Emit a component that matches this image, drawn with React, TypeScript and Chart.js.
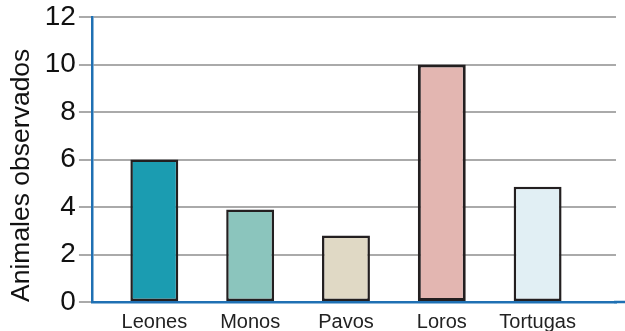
import React, { useEffect, useRef } from "react";
import { Chart, registerables } from "chart.js";

Chart.register(...registerables);

const categories = ["Leones", "Monos", "Pavos", "Loros", "Tortugas"];
const values = [6, 3.9, 2.8, 10, 4.85];
const barColors = ["#1b9cb1", "#8bc5bd", "#e0d9c5", "#e3b6b1", "#e1eff4"];
const borderWidths = [2.5, 2.5, 2.5, 3, 2.5];
const yTicks = [0, 2, 4, 6, 8, 10, 12];
const yTitle = "Animales observados";

const FONT = "'Liberation Sans', Arial, Helvetica, sans-serif";

const axisExtend = {
  id: "axisExtend",
  afterDraw(chart: any) {
    const { ctx, chartArea } = chart;
    ctx.save();
    ctx.strokeStyle = "#1f70b3";
    ctx.lineWidth = 2.5;
    ctx.beginPath();
    ctx.moveTo(chartArea.right - 2, chartArea.bottom);
    ctx.lineTo(chart.width, chartArea.bottom);
    ctx.stroke();
    ctx.restore();
  },
};

export default function App() {
  const ref = useRef<HTMLCanvasElement | null>(null);
  useEffect(() => {
    if (!ref.current) return;
    const chart = new Chart(ref.current, {
      type: "bar",
      data: {
        datasets: [
          {
            data: values.map((v, i) => ({ x: i, y: v })),
            backgroundColor: barColors,
            borderColor: "#231f20",
            borderWidth: borderWidths,
            borderSkipped: false,
            barPercentage: 0.5,
            categoryPercentage: 1,
          },
        ],
      },
      plugins: [axisExtend],
      options: {
        responsive: false,
        animation: false,
        layout: { padding: { left: 2, right: 9, top: 4, bottom: -11 } },
        plugins: { legend: { display: false }, tooltip: { enabled: false } },
        scales: {
          x: {
            type: "linear",
            offset: false,
            min: -0.651,
            max: 4.818,
            grid: { display: false, drawTicks: false },
            border: { color: "#1f70b3", width: 2.5 },
            afterBuildTicks: (axis: any) => {
              axis.ticks = categories.map((_, i) => ({ value: i }));
            },
            ticks: {
              autoSkip: false,
              maxRotation: 0,
              padding: 8,
              color: "#222",
              font: { family: FONT, size: 20 },
              callback: (v: any) => categories[Math.round(Number(v))] ?? "",
            },
          },
          y: {
            min: 0,
            max: 12,
            afterBuildTicks: (axis: any) => {
              axis.ticks = yTicks.map((v) => ({ value: v }));
            },
            grid: {
              color: "#aaaaaa",
              lineWidth: 2,
              tickLength: 13,
              tickColor: "#aaaaaa",
            },
            border: { color: "#1f70b3", width: 2.5 },
            ticks: {
              padding: 3,
              color: "#111",
              font: { family: FONT, size: 28, lineHeight: 1 },
            },
            title: {
              display: true,
              text: yTitle,
              align: "start",
              color: "#111",
              font: { family: FONT, size: 26.5 },
              padding: { top: 4, bottom: 4 },
            },
          },
        },
      },
    });
    return () => chart.destroy();
  }, []);
  return (
    <div style={{ position: "fixed", left: 0, top: 0, width: 625, height: 331, background: "#fff" }}>
      <canvas ref={ref} width={625} height={331} />
    </div>
  );
}
